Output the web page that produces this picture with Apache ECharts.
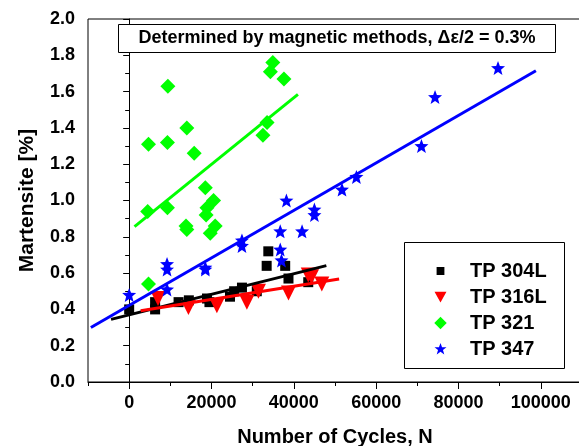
<!DOCTYPE html>
<html>
<head>
<meta charset="utf-8">
<script src="https://cdn.jsdelivr.net/npm/echarts@6/dist/echarts.min.js"></script>
<style>
  html, body { margin: 0; padding: 0; background: #fff; }
  #chart { width: 579px; height: 446px; }
</style>
</head>
<body>
<div id="chart"></div>
<script>
// Martensite content vs. number of cycles for four steel grades
const seriesNames = ['TP 304L', 'TP 316L', 'TP 321', 'TP 347'];

const tp304L = [
  [0, 0.40], [6300, 0.44], [6300, 0.40], [12000, 0.44], [14500, 0.45],
  [18900, 0.46], [19500, 0.44], [24500, 0.47], [25500, 0.50], [27400, 0.52],
  [31000, 0.50], [33400, 0.64], [33800, 0.72], [37900, 0.64], [38700, 0.57],
  [43500, 0.55]
];
const tp316L = [
  [7000, 0.46], [14400, 0.41], [21300, 0.42], [28600, 0.44], [31400, 0.50],
  [38700, 0.49], [43500, 0.59], [44300, 0.58], [46800, 0.54]
];
const tp321 = [
  [4700, 1.31], [9400, 1.63], [9300, 1.32], [14000, 1.40], [15800, 1.26],
  [4500, 0.94], [9300, 0.96], [4700, 0.54], [13800, 0.86], [14000, 0.84],
  [18500, 1.07], [20500, 1.00], [18900, 0.96], [18700, 0.92], [20900, 0.86],
  [19700, 0.82], [32500, 1.36], [33500, 1.43], [34300, 1.71], [34900, 1.76],
  [37600, 1.67]
];
const tp347 = [
  [0, 0.48], [9200, 0.65], [9200, 0.62], [9200, 0.51], [18500, 0.63],
  [18500, 0.62], [27400, 0.78], [27400, 0.75], [36700, 0.83], [36700, 0.73],
  [37000, 0.67], [38200, 1.00], [42000, 0.83], [45000, 0.95], [45000, 0.92],
  [51700, 1.06], [55200, 1.13], [71000, 1.30], [74300, 1.57], [89600, 1.73]
];

// Linear fit lines (end points)
const fit304L = [[-4400, 0.345], [47900, 0.641]];
const fit316L = [[2800, 0.393], [51000, 0.567]];
const fit321 = [[1300, 0.856], [41000, 1.585]];
const fit347 = [[-9300, 0.30], [98800, 1.715]];

const xMajorTicks = [0, 20000, 40000, 60000, 80000, 100000];
const titleText = 'Determined by magnetic methods, ';
const titleMath = 'Δε/2 = 0.3%';

const FONT = '"Liberation Sans", Arial, sans-serif';
const colors = ['#000000', '#ff0000', '#00ff00', '#0000ff'];

const STAR = 'path://M50,0 L63,33 L99,35 L71,58 L81,94 L50,74 L19,94 L29,58 L1,35 L37,33 Z';
const DOWN_TRIANGLE = 'path://M0,0 L100,0 L50,90 Z';
// legend icons: zero-area corner marks fix the bounding box so the glyph keeps its own size
const BOX = 'M0,0 L0,0 L0,0 Z M100,100 L100,100 L100,100 Z ';
const LEGEND_SQUARE = 'path://' + BOX + 'M20,20 L80,20 L80,80 L20,80 Z';
const LEGEND_TRIANGLE = 'path://' + BOX + 'M4,10 L96,10 L50,92 Z';
const LEGEND_DIAMOND = 'path://' + BOX + 'M50,2 L98,50 L50,98 L2,50 Z';
const LEGEND_STAR = 'path://' + BOX + 'M50,4 L62,36 L96,37 L69,58 L79,92 L50,72 L21,92 L31,58 L4,37 L38,36 Z';

const chart = echarts.init(document.getElementById('chart'), null, { renderer: 'canvas' });

function scatter(name, data, symbol, size, color) {
  return {
    name: name, type: 'scatter', data: data, symbol: symbol,
    symbolSize: size,
    itemStyle: { color: color, opacity: 1 }, z: 3
  };
}
function fitLine(data, color) {
  return {
    type: 'line', data: data, showSymbol: false, symbol: 'none',
    lineStyle: { color: color, width: 3 }, z: 4, silent: true
  };
}

const option = {
  animation: false,
  backgroundColor: '#ffffff',
  grid: {
    left: 88, top: 19, right: -3, bottom: 64,
    outerBoundsMode: 'none', containLabel: false,
    show: true, borderColor: '#000', borderWidth: 1
  },
  xAxis: [
    {
      type: 'value', min: -10000, max: 110000, interval: 10000,
      name: 'Number of Cycles, N', nameLocation: 'middle', nameGap: 45,
      nameTextStyle: { fontFamily: FONT, fontWeight: 'bold', fontSize: 20, color: '#000' },
      axisLine: { show: true, lineStyle: { color: '#000', width: 1 } },
      axisTick: { show: true, inside: false, length: 4, lineStyle: { color: '#000' } },
      axisLabel: {
        margin: 12, fontFamily: FONT, fontWeight: 'bold', fontSize: 18, color: '#000',
        formatter: function (v) { return (v >= 0 && v % 20000 === 0) ? String(v) : ''; }
      },
      splitLine: { show: false }
    },
    {
      type: 'value', min: -10000, max: 110000, position: 'bottom', gridIndex: 0,
      axisLine: { show: false },
      axisTick: { show: true, length: 7, customValues: xMajorTicks, lineStyle: { color: '#000' } },
      axisLabel: { show: false },
      splitLine: { show: false }
    }
  ],
  yAxis: {
    type: 'value', min: 0, max: 2.0, interval: 0.2,
    name: 'Martensite [%]', nameLocation: 'middle', nameGap: 50,
    nameTextStyle: { fontFamily: FONT, fontWeight: 'bold', fontSize: 21, color: '#000' },
    axisLine: { show: true, lineStyle: { color: '#000', width: 1 } },
    axisTick: { show: true, length: 6, lineStyle: { color: '#000' } },
    minorTick: { show: true, splitNumber: 2, length: 4, lineStyle: { color: '#000' } },
    axisLabel: {
      margin: 13, fontFamily: FONT, fontWeight: 'bold', fontSize: 18, color: '#000',
      formatter: function (v) { return v.toFixed(1); }
    },
    splitLine: { show: false }
  },
  legend: {
    data: [
      { name: seriesNames[0], icon: LEGEND_SQUARE, itemStyle: { color: colors[0] } },
      { name: seriesNames[1], icon: LEGEND_TRIANGLE, itemStyle: { color: colors[1] } },
      { name: seriesNames[2], icon: LEGEND_DIAMOND, itemStyle: { color: colors[2] } },
      { name: seriesNames[3], icon: LEGEND_STAR, itemStyle: { color: colors[3] } }
    ],
    orient: 'vertical', left: 434, top: 261,
    itemWidth: 13, itemHeight: 13, itemGap: 6, padding: 0,
    textStyle: {
      fontFamily: FONT, fontWeight: 'bold', fontSize: 20, color: '#000',
      padding: [0, 0, 0, 18]
    }
  },
  graphic: [
    {
      type: 'rect', left: 404, top: 242, z: 0,
      shape: { width: 160, height: 126 },
      style: { fill: '#fff', stroke: '#000', lineWidth: 1 }
    },
    {
      type: 'rect', left: 118, top: 24, z: 10,
      shape: { width: 437, height: 28 },
      style: { fill: '#fff', stroke: '#000', lineWidth: 1 }
    },
    {
      type: 'text', x: 337, y: 38, z: 11,
      style: {
        text: '{a|' + titleText + '}{b|' + titleMath + '}',
        align: 'center', verticalAlign: 'middle',
        rich: {
          a: { fontFamily: FONT, fontWeight: 'bold', fontSize: 18, fill: '#000' },
          b: { fontFamily: FONT, fontWeight: 'bold', fontSize: 18, fill: '#000' }
        }
      }
    }
  ],
  series: [
    scatter(seriesNames[0], tp304L, 'rect', 10, colors[0]),
    scatter(seriesNames[1], tp316L, DOWN_TRIANGLE, 15, colors[1]),
    scatter(seriesNames[2], tp321, 'diamond', 15, colors[2]),
    scatter(seriesNames[3], tp347, STAR, 14, colors[3]),
    fitLine(fit304L, colors[0]),
    fitLine(fit316L, colors[1]),
    fitLine(fit321, colors[2]),
    fitLine(fit347, colors[3])
  ]
};
chart.setOption(option);
</script>
</body>
</html>
